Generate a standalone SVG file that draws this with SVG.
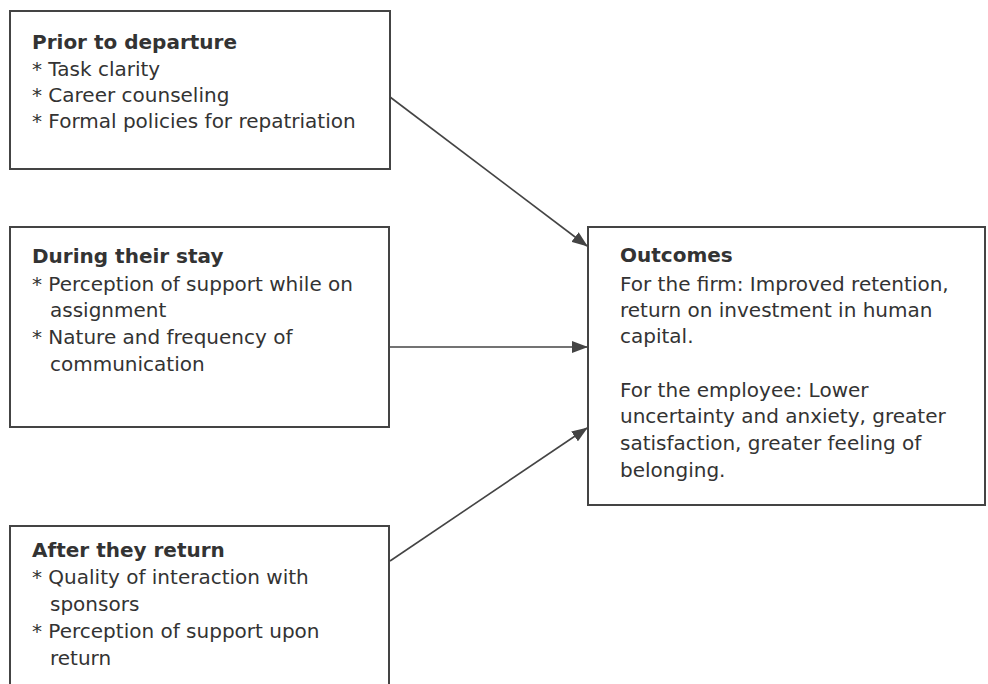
<svg xmlns="http://www.w3.org/2000/svg" width="988" height="684" viewBox="0 0 988 684">
<style>
.box{fill:#fff;stroke:#444;stroke-width:2}
text{font-family:"DejaVu Sans","Liberation Sans",sans-serif;font-size:20px;fill:#333}
.h{font-weight:bold}
.conn{stroke:#444;stroke-width:1.6;fill:none;marker-end:url(#ah)}
</style>
<defs>
<marker id="ah" markerWidth="16" markerHeight="12" refX="15" refY="6" orient="auto" markerUnits="userSpaceOnUse">
<path d="M0,0 L16,6 L0,12 z" fill="#444"/>
</marker>
</defs>
<rect width="988" height="684" fill="#fff"/>
<g id="prior">
<rect class="box" x="10" y="11" width="380" height="158"/>
<text x="32" y="49" class="h">Prior to departure</text>
<text x="32" y="76">* Task clarity</text>
<text x="32" y="102">* Career counseling</text>
<text x="32" y="128">* Formal policies for repatriation</text>
</g>
<g id="during">
<rect class="box" x="10" y="227" width="379" height="200"/>
<text x="32" y="263" class="h">During their stay</text>
<text x="32" y="291">* Perception of support while on</text>
<text x="50" y="317">assignment</text>
<text x="32" y="344">* Nature and frequency of</text>
<text x="50" y="371">communication</text>
</g>
<g id="after">
<rect class="box" x="10" y="526" width="379" height="170"/>
<text x="32" y="557" class="h">After they return</text>
<text x="32" y="584">* Quality of interaction with</text>
<text x="50" y="611">sponsors</text>
<text x="32" y="638">* Perception of support upon</text>
<text x="50" y="665">return</text>
</g>
<g id="outcomes">
<rect class="box" x="588" y="227" width="397" height="278"/>
<text x="620" y="262" class="h">Outcomes</text>
<text x="620" y="291">For the firm: Improved retention,</text>
<text x="620" y="317">return on investment in human</text>
<text x="620" y="343">capital.</text>
<text x="620" y="397">For the employee: Lower</text>
<text x="620" y="423">uncertainty and anxiety, greater</text>
<text x="620" y="450">satisfaction, greater feeling of</text>
<text x="620" y="477">belonging.</text>
</g>
<g id="connectors">
<line class="conn" x1="390" y1="97" x2="587" y2="246"/>
<line class="conn" x1="390" y1="347" x2="587" y2="347"/>
<line class="conn" x1="390" y1="561" x2="587" y2="428"/>
</g>
</svg>
